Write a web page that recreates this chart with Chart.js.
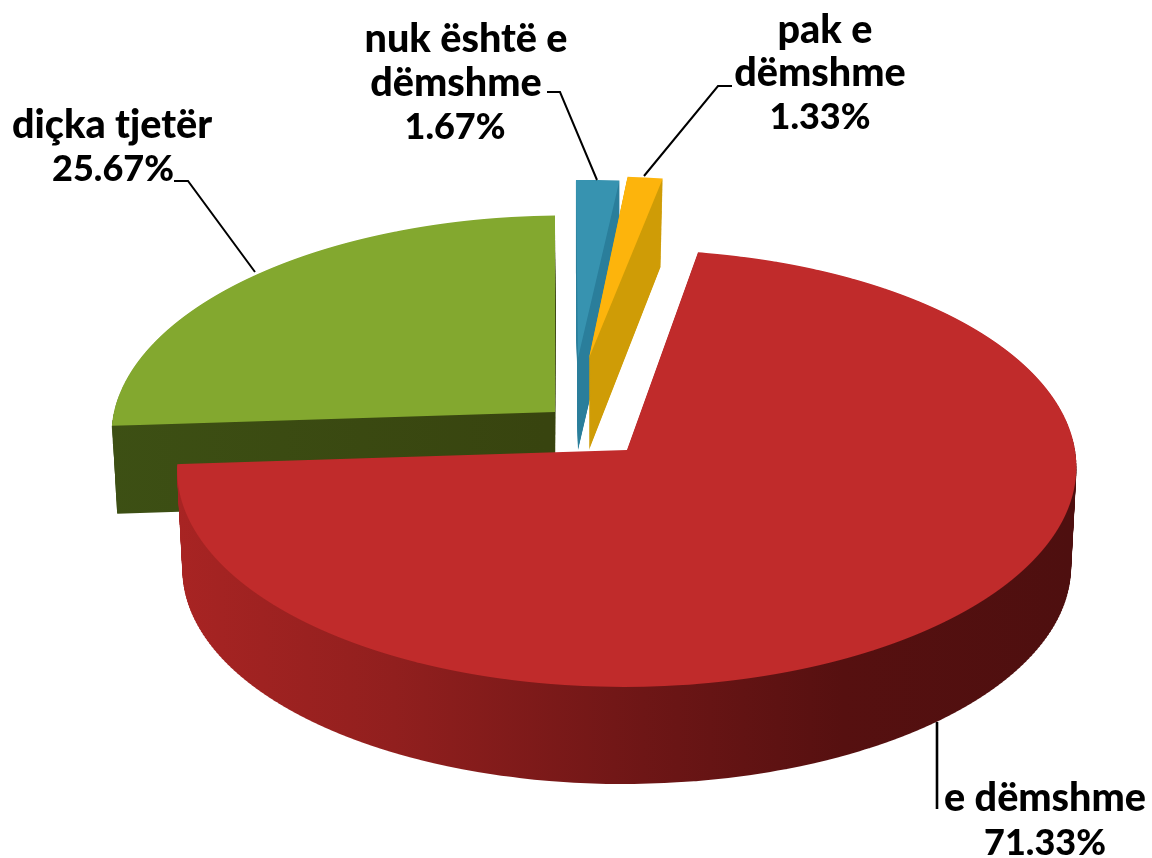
<!DOCTYPE html>
<html>
<head>
<meta charset="utf-8">
<style>html,body{margin:0;padding:0;background:#fff}#wrap{width:1152px;height:858px}</style>
<script src="https://cdn.jsdelivr.net/npm/chart.js@4"></script>
</head>
<body>
<div id="wrap"><canvas id="c" width="1152" height="858"></canvas></div>
<script>
const categories = ['e dëmshme', 'diçka tjetër', 'nuk është e dëmshme', 'pak e dëmshme'];
const values = [71.33, 25.67, 1.67, 1.33];
const topColors = ['#c02b2b', '#83a82f', '#3793b0', '#fdb40c'];
const startAngle = 9.5;
const drawOrder = [1, 2, 3, 0];

// projected placement of each exploded slice (perspective look of the 3-D pie)
const projection = [
  {x0: 627, y0: 450, A: 448, D: 217, c: -3,  depth: 100, shrink: 0.012, shrinkD: 0.012, side: [[180,'#a82423'],[400,'#911f1e'],[650,'#6e1616'],[850,'#561010'],[1075,'#4e0f0f']]},
  {x0: 555, y0: 412, A: 441, D: 213, c: -10, depth: 88,  shrink: 0.012, shrinkD: 0.012, side: [[110,'#3d5014'],[555,'#38440f']]},
  {x0: 578, y0: 358, A: 450, D: 193, c: -8,  depth: 92,  shrink: 0,     shrinkD: 0,     side: [[570,'#2a7e9b'],[620,'#2a7e9b']]},
  {x0: 589, y0: 358, A: 460, D: 197, c: -4,  depth: 92,  shrink: 0.03,  shrinkD: -0.022, side: [[585,'#cf9c06'],[665,'#cf9c06']]}
];
const K = -0.084;

const labelBlocks = [
  {cat: 0, lines: ['e dëmshme'], y: [811, 855], cx: [1045, 1045]},
  {cat: 1, lines: ['diçka tjetër'], y: [138, 181], cx: [112, 113]},
  {cat: 2, lines: ['nuk është e', 'dëmshme'], y: [52, 96, 139], cx: [466, 456, 455]},
  {cat: 3, lines: ['pak e', 'dëmshme'], y: [43, 86, 129], cx: [825, 820, 820]}
];
const leaders = [
  {w: 2.6, pts: [[937, 722], [937, 809]]},
  {w: 2, pts: [[174, 181], [188, 181], [255, 272]]},
  {w: 2, pts: [[547, 92], [560, 92], [597, 180]]},
  {w: 2, pts: [[732, 86], [718, 86], [644, 176]]}
];

function drawSurface(ctx, arc, p, t, h, sideStops) {
  const R = arc.outerRadius, cx = arc.x, cy = arc.y;
  const A = p.A * (1 - p.shrink * t), D = p.D * (1 - p.shrinkD * t);
  const y0 = p.y0 + p.depth * t;
  const yTop = Math.floor(y0 - D / (1 - K));
  const yBot = Math.ceil(y0 + D / (1 + K));
  const saved = arc.options;
  for (let Y = yTop; Y < yBot; Y += h) {
    const q1 = Y - y0, q2 = Y + h - y0;
    const v1 = q1 / (D - K * q1), v2 = q2 / (D - K * q2);
    const vm = (v1 + v2) / 2, w = 1 + K * vm;
    const a = A / w / R, c = p.c / w / R;
    const dd = h / (R * (v2 - v1));
    const ff = Y - dd * R * v1;
    ctx.save();
    ctx.setTransform(1, 0, 0, 1, 0, 0);
    ctx.beginPath();
    ctx.rect(0, Y, 1152, h);
    ctx.clip();
    const e = p.x0 - a * cx - c * cy, f = ff - dd * cy;
    let fill = saved.backgroundColor;
    if (sideStops) {
      const x1 = sideStops[0][0], x2 = sideStops[sideStops.length - 1][0];
      fill = ctx.createLinearGradient((x1 - e) / a, 0, (x2 - e) / a, 0);
      sideStops.forEach(s => fill.addColorStop((s[0] - x1) / (x2 - x1), s[1]));
    }
    ctx.setTransform(a, 0, c, dd, e, f);
    const o = Object.create(saved);
    o.backgroundColor = fill;
    o.borderWidth = 0;
    o.offset = 0;
    arc.options = o;
    arc.draw(ctx);
    ctx.restore();
  }
  arc.options = saved;
}

const pie3d = {
  id: 'pie3d',
  beforeDatasetDraw(chart, args) {
    const ctx = chart.ctx;
    drawOrder.forEach(i => {
      const arc = args.meta.data[i], p = projection[i];
      for (let d = p.depth; d > 0; d -= 1) {
        drawSurface(ctx, arc, p, d / p.depth, 3, p.side);
      }
      drawSurface(ctx, arc, p, 0, 1, null);
    });
    return false;
  },
  afterDraw(chart) {
    const ctx = chart.ctx;
    ctx.save();
    ctx.setTransform(1, 0, 0, 1, 0, 0);
    ctx.strokeStyle = '#000';
    leaders.forEach(l => {
      ctx.lineWidth = l.w;
      ctx.beginPath();
      l.pts.forEach((pt, i) => i ? ctx.lineTo(pt[0], pt[1]) : ctx.moveTo(pt[0], pt[1]));
      ctx.stroke();
    });
    ctx.fillStyle = '#000';
    ctx.textAlign = 'center';
    ctx.textBaseline = 'alphabetic';
    labelBlocks.forEach(b => {
      b.lines.forEach((s, i) => {
        ctx.font = '900 39.5px Lato';
        ctx.fillText(s, b.cx[i], b.y[i]);
      });
      const n = b.lines.length;
      ctx.font = '900 36px Lato';
      ctx.fillText(values[b.cat].toFixed(2) + '%', b.cx[n], b.y[n]);
    });
    ctx.restore();
  }
};

new Chart(document.getElementById('c'), {
  type: 'pie',
  data: {
    labels: categories,
    datasets: [{data: values, backgroundColor: topColors, borderWidth: 0}]
  },
  options: {
    responsive: false,
    animation: false,
    rotation: startAngle,
    plugins: {legend: {display: false}, tooltip: {enabled: false}}
  },
  plugins: [pie3d]
});
</script>
</body>
</html>
